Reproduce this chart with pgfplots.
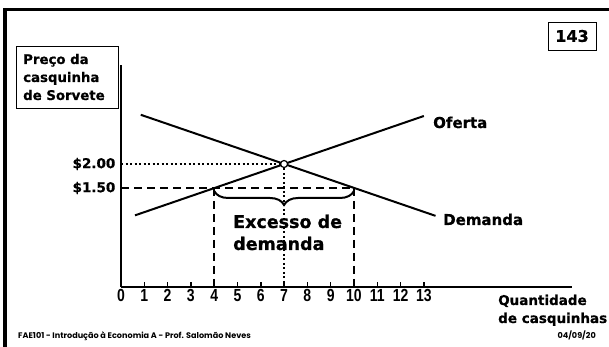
\documentclass[border=0pt]{standalone}
\usepackage{pgfplots}
\pgfplotsset{compat=1.18}
\usepackage{fontspec}
\setmainfont{DejaVu Sans}[BoldFeatures={FakeBold=0.8}]
\newfontfamily\narrowfont[FakeStretch=0.8]{Liberation Sans}
\newfontfamily\footfont{Poppins}
\usetikzlibrary{decorations.pathreplacing,calc}

\begin{document}
\begin{tikzpicture}
\useasboundingbox (0pt,0pt) rectangle (609pt,347pt);
% slide frame (top and left edges only)
\draw[line width=3.5pt] (5pt,-5pt) -- (5pt,337.5pt) -- (615pt,337.5pt);

\begin{axis}[
 at={(121pt,60pt)}, anchor=south west,
 scale only axis, width=451pt, height=222pt,
 xmin=0, xmax=19.36, ymin=-0.5625, ymax=4.0625,
 axis x line=bottom, axis y line=left,
 x axis line style={-, line width=2.4pt},
 y axis line style={-, line width=1.6pt},
 xtick={0,1,2,3,4,5,6,7,8,9,10,11,12,13},
 xtick align=inside,
 major tick length=5pt,
 xtick style={line width=1.5pt, black},
 ytick={1.5,2}, yticklabels={\$1.50,\$2.00},
 ytick style={draw=none},
 /pgf/number format/assume math mode=true,
 xticklabel style={anchor=north, inner sep=0pt, yshift=-2pt,
   font=\narrowfont\bfseries\fontsize{17.5}{19}\selectfont},
 yticklabel style={anchor=east, inner sep=0pt, xshift=-3pt,
   font=\bfseries\fontsize{13.5}{15}\selectfont},
 clip=false,
]
 % supply (Oferta) and demand (Demanda)
 \addplot[black, line width=2pt] coordinates {(0.6,0.93) (13,3.0)};
 \addplot[black, line width=2pt] coordinates {(0.85,3.025) (13.5,0.92)};
 % equilibrium guides
 \addplot[black, line width=2pt, dash pattern=on 2pt off 2.5pt] coordinates {(0,2) (7,2)};
 \addplot[black, line width=2pt, dash pattern=on 2pt off 2.5pt] coordinates {(7,2) (7,-0.5625)};
 % price ceiling at 1.50
 \addplot[black, line width=2pt, dash pattern=on 8pt off 5pt] coordinates {(0,1.5) (10,1.5)};
 \addplot[black, line width=2pt, dash pattern=on 8pt off 5pt] coordinates {(4,1.5) (4,-0.5625)};
 \addplot[black, line width=2pt, dash pattern=on 8pt off 5pt] coordinates {(10,1.5) (10,-0.5625)};
 % equilibrium point
 \addplot[only marks, mark=*, mark size=3.5pt, mark options={fill=white, draw=black, line width=1.2pt}] coordinates {(7,2)};
 % shortage brace
 \draw[line width=2pt, decorate, decoration={brace, mirror, amplitude=14pt}]
   ($(axis cs:4,1.5)+(0pt,-3pt)$) -- ($(axis cs:10,1.5)+(0pt,-3pt)$);
\end{axis}

\tikzset{lbl/.style={anchor=base west, inner sep=0pt}}
\node[lbl, font=\bfseries\fontsize{13.3}{16}\selectfont] at (23pt,283pt) {Preço da};
\node[lbl, font=\bfseries\fontsize{13.3}{16}\selectfont] at (23pt,265pt) {casquinha};
\node[lbl, font=\bfseries\fontsize{13.3}{16}\selectfont] at (23pt,247pt) {de Sorvete};
\draw[line width=0.9pt] (16pt,239pt) rectangle (118pt,301pt);

\draw[line width=0.9pt] (548pt,297pt) rectangle (596pt,325pt);
\node[inner sep=0pt, font=\bfseries\fontsize{16}{18}\selectfont] at (572pt,311pt) {143};

\node[lbl, font=\bfseries\fontsize{15}{18}\selectfont] at (433pt,219pt) {Oferta};
\node[lbl, font=\bfseries\fontsize{15}{18}\selectfont] at (443pt,122pt) {Demanda};
\node[lbl, font=\bfseries\fontsize{17.5}{20}\selectfont] at (233pt,119pt) {Excesso de};
\node[lbl, font=\bfseries\fontsize{17.5}{20}\selectfont] at (233pt,97pt) {demanda};

\node[lbl, font=\bfseries\fontsize{13.5}{16}\selectfont] at (498pt,42pt) {Quantidade};
\node[lbl, font=\bfseries\fontsize{13.5}{16}\selectfont] at (498pt,24pt) {de casquinhas};

\node[lbl, font=\footfont\bfseries\fontsize{8.1}{10}\selectfont] at (18pt,8pt) {FAE101 - Introdução à Economia A - Prof. Salomão Neves};
\node[anchor=base east, inner sep=0pt, font=\footfont\bfseries\fontsize{8.1}{10}\selectfont] at (596pt,8pt) {04/09/20};
\end{tikzpicture}
\end{document}
